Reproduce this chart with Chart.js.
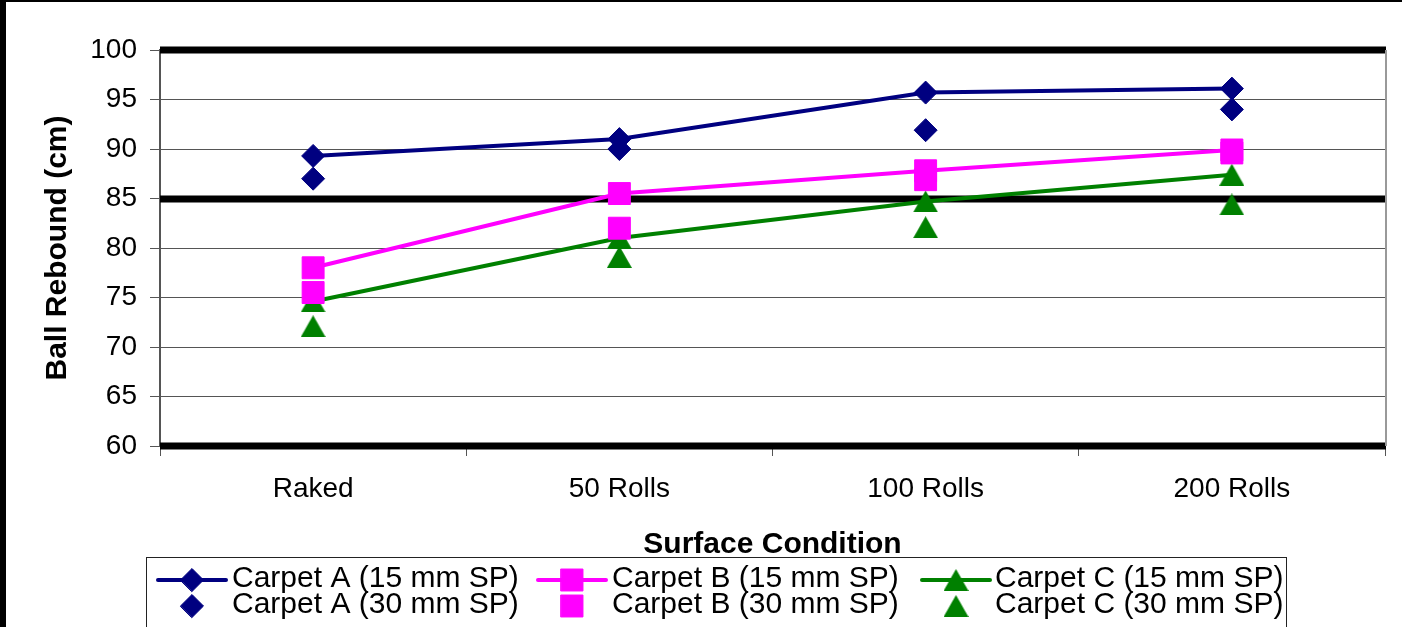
<!DOCTYPE html>
<html>
<head>
<meta charset="utf-8">
<script src="https://cdn.jsdelivr.net/npm/chart.js@4.4.1/dist/chart.umd.min.js"></script>
<style>
  html, body { margin: 0; padding: 0; background: #fff; }
  #wrap { position: relative; width: 1402px; height: 627px; overflow: hidden; background: #fff; }
  #c { position: absolute; left: 0; top: 0; }
  #frame { position: absolute; left: 0; top: 0; width: 1402px; height: 627px; box-sizing: border-box;
           border-left: 6px solid #000; border-top: 2px solid #000; pointer-events: none; }
</style>
</head>
<body>
<div id="wrap">
  <canvas id="c" width="1402" height="627"></canvas>
  <div id="frame"></div>
</div>
<script>
// Surface conditions along the x axis
const conditions = ['Raked', '50 Rolls', '100 Rolls', '200 Rolls'];

// Ball rebound (cm) per carpet and shockpad thickness
const carpetA15 = [89.3, 91.0, 95.7, 96.1];
const carpetA30 = [87.0, 90.0, 91.9, 94.0];
const carpetB15 = [78.0, 85.5, 87.8, 89.9];
const carpetB30 = [75.5, 82.0, 86.9, 89.6];
const carpetC15 = [74.6, 81.0, 84.7, 87.4];
const carpetC30 = [72.1, 79.1, 82.1, 84.4];

// Value axis range and the heavy limit lines
const yMin = 60, yMax = 100, yStep = 5;
const limitLines = [100, 85, 60];

const FONT = "'Liberation Sans', Arial, Helvetica, sans-serif";
const NAVY = '#000080', MAGENTA = '#FF00FF', GREEN = '#008000';

// Upright triangle marker whose box is centred on the point
function triangleMarker(color, w, h) {
  const c = document.createElement('canvas');
  c.width = w; c.height = h;
  const g = c.getContext('2d');
  g.fillStyle = color;
  g.beginPath();
  g.moveTo(w / 2, 0);
  g.lineTo(w, h);
  g.lineTo(0, h);
  g.closePath();
  g.fill();
  return c;
}
const triGreen = triangleMarker(GREEN, 25, 22);

function series(label, data, color, style, radius, withLine, order) {
  return {
    label, data,
    borderColor: color, backgroundColor: color,
    borderWidth: 4, showLine: withLine, tension: 0,
    pointStyle: style, pointRadius: radius, pointHoverRadius: radius,
    pointBorderWidth: 1, pointBorderColor: color, pointBackgroundColor: color,
    order
  };
}

const datasets = [
  series('Carpet A (15 mm SP)', carpetA15, NAVY, 'rectRot', 11.5, true, 1),
  series('Carpet B (15 mm SP)', carpetB15, MAGENTA, 'rect', 15.5, true, 2),
  series('Carpet C (15 mm SP)', carpetC15, GREEN, triGreen, 12, true, 3),
  series('Carpet A (30 mm SP)', carpetA30, NAVY, 'rectRot', 11.5, false, 1),
  series('Carpet B (30 mm SP)', carpetB30, MAGENTA, 'rect', 15.5, false, 2),
  series('Carpet C (30 mm SP)', carpetC30, GREEN, triGreen, 12, false, 3)
];

// Heavy horizontal limit lines across the plot
const limitPlugin = {
  id: 'limitLines',
  beforeDatasetsDraw(chart) {
    const { ctx, chartArea: a, scales: { y } } = chart;
    ctx.save();
    ctx.strokeStyle = '#000';
    ctx.lineWidth = 7;
    limitLines.forEach(v => {
      const py = Math.round(y.getPixelForValue(v));
      ctx.beginPath();
      ctx.moveTo(a.left, py);
      ctx.lineTo(a.right + 1, py);
      ctx.stroke();
    });
    ctx.restore();
  }
};

// Plot frame edge on the right
const framePlugin = {
  id: 'plotFrame',
  afterDraw(chart) {
    const { ctx, chartArea: a } = chart;
    ctx.save();
    ctx.strokeStyle = '#999';
    ctx.lineWidth = 2;
    ctx.beginPath();
    ctx.moveTo(a.right + 1, a.top);
    ctx.lineTo(a.right + 1, a.bottom);
    ctx.stroke();
    ctx.restore();
  }
};

function drawMarker(ctx, ds, x, y) {
  const st = ds.pointStyle;
  ctx.fillStyle = ds.pointBackgroundColor;
  ctx.strokeStyle = ds.pointBorderColor;
  ctx.lineWidth = 1;
  if (st instanceof HTMLCanvasElement) {
    ctx.drawImage(st, x - st.width / 2, y - st.height / 2);
    return;
  }
  const r = ds.pointRadius;
  ctx.beginPath();
  if (st === 'rectRot') {
    ctx.moveTo(x - r, y); ctx.lineTo(x, y - r); ctx.lineTo(x + r, y); ctx.lineTo(x, y + r);
  } else {
    const h = r * Math.SQRT1_2;
    ctx.rect(x - h, y - h, 2 * h, 2 * h);
  }
  ctx.closePath();
  ctx.fill();
  ctx.stroke();
}

// Boxed legend below the axis: 15 mm series on the first row, 30 mm on the second
const legendPlugin = {
  id: 'boxLegend',
  afterDraw(chart) {
    const { ctx } = chart;
    const dsets = chart.data.datasets;
    const cols = [{ sx: 158, tx: 232 }, { sx: 538, tx: 612 }, { sx: 922, tx: 995 }];
    const rows = [{ my: 580, base: 586.5 }, { my: 606, base: 613 }];
    ctx.save();
    ctx.strokeStyle = '#222';
    ctx.lineWidth = 1;
    ctx.strokeRect(146.5, 557.5, 1140, 100);
    ctx.font = '30px ' + FONT;
    ctx.textAlign = 'left';
    ctx.textBaseline = 'alphabetic';
    for (let r = 0; r < 2; r++) {
      for (let c = 0; c < 3; c++) {
        const ds = dsets[r * 3 + c];
        const { sx, tx } = cols[c];
        const { my, base } = rows[r];
        if (ds.showLine) {
          ctx.strokeStyle = ds.borderColor;
          ctx.lineWidth = 4;
          ctx.lineCap = 'round';
          ctx.beginPath();
          ctx.moveTo(sx, my);
          ctx.lineTo(sx + 68, my);
          ctx.stroke();
        }
        drawMarker(ctx, ds, sx + 34, my);
        ctx.fillStyle = '#000';
        ctx.fillText(ds.label, tx, base);
      }
    }
    // category axis title
    const a = chart.chartArea;
    ctx.font = 'bold 30px ' + FONT;
    ctx.textAlign = 'center';
    ctx.fillStyle = '#000';
    ctx.fillText('Surface Condition', (a.left + a.right) / 2, 553);
    ctx.restore();
  }
};

new Chart(document.getElementById('c'), {
  type: 'line',
  data: { labels: conditions, datasets },
  plugins: [limitPlugin, framePlugin, legendPlugin],
  options: {
    responsive: false,
    animation: false,
    devicePixelRatio: 1,
    layout: { padding: { top: 50, right: 17, bottom: 63, left: 0 } },
    plugins: { legend: { display: false }, tooltip: { enabled: false } },
    scales: {
      x: {
        type: 'category',
        offset: true,
        grid: { offset: true, drawOnChartArea: false, tickLength: 10, color: '#555', lineWidth: 1 },
        border: { display: false },
        ticks: { color: '#000', font: { family: FONT, size: 28 }, padding: 16, maxRotation: 0, autoSkip: false },
        afterFit(s) { s.height = 118; }
      },
      y: {
        min: yMin, max: yMax,
        ticks: { stepSize: yStep, color: '#000', font: { family: FONT, size: 28 }, padding: 13 },
        grid: { color: '#555', lineWidth: 1, tickLength: 10, tickColor: '#555', tickWidth: 1 },
        border: { color: '#555', width: 2 },
        title: {
          display: true, text: 'Ball Rebound (cm)', color: '#000',
          font: { family: FONT, size: 30, weight: 'bold' }, padding: { top: 39.5, bottom: 0 }
        },
        afterFit(s) { s.width = 160; }
      }
    }
  }
});
</script>
</body>
</html>
